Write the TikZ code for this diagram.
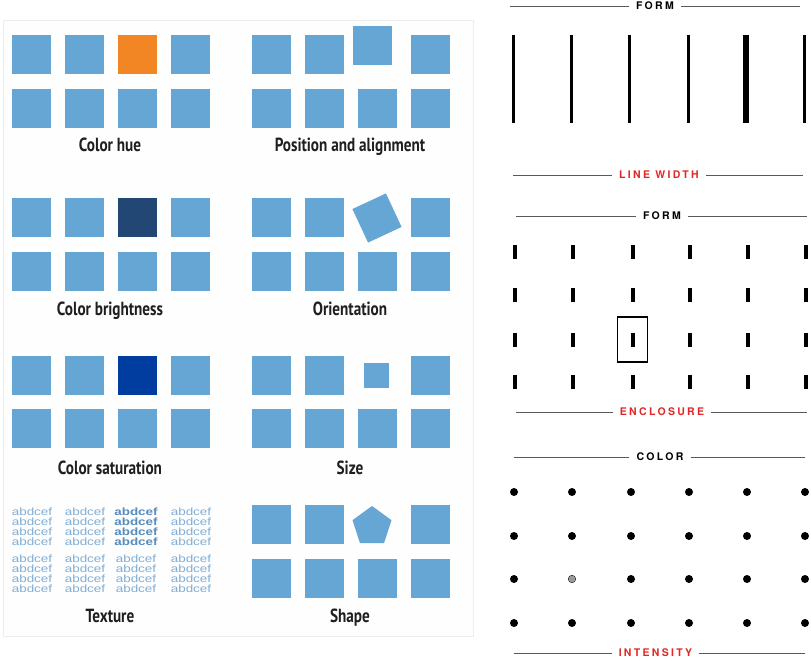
\documentclass[tikz,border=0pt]{standalone}
\usepackage{fontspec}
\setmainfont{Liberation Sans}
\newfontfamily\condfont[FakeStretch=0.8]{PT Sans}
\newfontfamily\capsfont[LetterSpace=22]{TeX Gyre Heros}
\newfontfamily\abcfont[FakeStretch=1.28]{Liberation Sans}
\usetikzlibrary{positioning, shapes.geometric}
\definecolor{sqblue}{RGB}{101,166,213}
\definecolor{hueorange}{RGB}{242,134,36}
\definecolor{darknavy}{RGB}{35,71,117}
\definecolor{satblue}{RGB}{0,61,158}
\definecolor{txtblue}{RGB}{128,174,214}
\definecolor{txtbold}{RGB}{86,140,192}
\definecolor{capred}{RGB}{224,38,38}

\begin{document}
\begin{tikzpicture}[
  x=1pt, y=-1pt,
  sq/.style={fill=sqblue, minimum size=39pt, inner sep=0pt},
  lbl/.style={font=\condfont\bfseries\fontsize{19}{21}\selectfont, text=black!88, anchor=base, inner sep=0pt},
  abc/.style={font=\abcfont\fontsize{10.5}{10}\selectfont, text=txtblue, align=center, inner sep=0pt},
  head/.style={font=\capsfont\bfseries\fontsize{10.5}{12}\selectfont, anchor=base, inner xsep=7pt, inner ysep=0pt},
  rule/.style={draw=black!65, line width=0.8pt},
  bar/.style={line width=3pt},
  tick/.style={line width=3.2pt},
  dot/.style={circle, fill=black, inner sep=0pt, minimum size=8pt}
]
\useasboundingbox (0,0) rectangle (811,661);

% left panel
\draw[draw=black!7, fill=black!0.5] (3,20) rectangle (473,636);

% plain squares, top rows leave out the odd one
\foreach \y [count=\r] in {54.5,217.5,375.5} {
  \foreach \x in {31,84,190}
    \node[sq] (l\r-\x) at (\x,\y) {};
}
\foreach \y [count=\r] in {108,271,428.5} {
  \foreach \x in {31,84,137,190}
    \node[sq] (lb\r-\x) at (\x,\y) {};
}
\foreach \y [count=\r] in {54.5,217.5,375.5,524.5} {
  \foreach \x in {271,324,430}
    \node[sq] (r\r-\x) at (\x,\y) {};
}
\foreach \y [count=\r] in {108,271,428.5,578} {
  \foreach \x in {271,324,377,430}
    \node[sq] (rb\r-\x) at (\x,\y) {};
}

% the odd ones
\node[sq, fill=hueorange] (hue) at (137,54.5) {};
\node[sq, fill=darknavy] (bright) at (137,217.5) {};
\node[sq, fill=satblue] (sat) at (137,375.5) {};
\node[sq] (shifted) at (372,46) {};
\node[sq, minimum size=37pt, rotate=25] (turned) at (377,218) {};
\node[sq, minimum size=25pt] (small) at (376.5,375.5) {};
\node[regular polygon, regular polygon sides=5, fill=sqblue, inner sep=0pt,
      minimum size=41pt] (penta) at (372,526.5) {};

% texture
\foreach \x [count=\c] in {32,85,191} {
  \node[abc] (tex-a\c) at (\x,527) {abdcef\\abdcef\\abdcef\\abdcef};
}
\node[abc, text=txtbold, font=\abcfont\bfseries\fontsize{10.5}{10}\selectfont] (tex-bold) at (136,527)
  {abdcef\\abdcef\\abdcef\\abdcef};
\foreach \x [count=\c] in {32,85,136,191} {
  \node[abc] (tex-b\c) at (\x,574) {abdcef\\abdcef\\abdcef\\abdcef};
}

% captions
\node[lbl] (cap-hue) at (110,151) {Color hue};
\node[lbl] (cap-pos) at (350,151) {Position and alignment};
\node[lbl] (cap-bright) at (110,315) {Color brightness};
\node[lbl] (cap-orient) at (350,315) {Orientation};
\node[lbl] (cap-sat) at (110,474) {Color saturation};
\node[lbl] (cap-size) at (350,474) {Size};
\node[lbl] (cap-tex) at (110,622) {Texture};
\node[lbl] (cap-shape) at (350,622) {Shape};

% right: line width
\node[head] (form1) at (655,9.8) {FORM};
\coordinate (f1l) at (510,6);
\coordinate (f1r) at (800,6);
\draw[rule] (f1l) -- (form1.west |- f1l);
\draw[rule] (form1.east |- f1r) -- (f1r);
\foreach \x in {513,571,629,688,804}
  \draw[bar] (\x,35) -- (\x,123);
\draw[line width=6pt] (746,35) -- (746,123);
\node[head, text=capred] (lwidth) at (659,178.8) {LINE WIDTH};
\coordinate (lwl) at (513,175);
\coordinate (lwr) at (803,175);
\draw[rule] (lwl) -- (lwidth.west |- lwl);
\draw[rule] (lwidth.east |- lwr) -- (lwr);

% right: enclosure
\node[head] (form2) at (662,219.8) {FORM};
\coordinate (f2l) at (516,216);
\coordinate (f2r) at (807,216);
\draw[rule] (f2l) -- (form2.west |- f2l);
\draw[rule] (form2.east |- f2r) -- (f2r);
\foreach \y in {252,295,339.5,381.5}
  \foreach \x in {515,573,633,690,748,806}
    \draw[tick] (\x,\y-7) -- (\x,\y+7);
\node[draw, line width=1.3pt, minimum width=30pt, minimum height=45pt] (encl) at (632.5,339.5) {};
\node[head, text=capred] (enclose) at (662,415.8) {ENCLOSURE};
\coordinate (enl) at (516,412);
\coordinate (enr) at (807,412);
\draw[rule] (enl) -- (enclose.west |- enl);
\draw[rule] (enclose.east |- enr) -- (enr);

% right: intensity
\node[head] (colour) at (660,460.8) {COLOR};
\coordinate (col) at (514,457);
\coordinate (cor) at (805,457);
\draw[rule] (col) -- (colour.west |- col);
\draw[rule] (colour.east |- cor) -- (cor);
\foreach \y [count=\r] in {492,536,579,623}
  \foreach \x [count=\c] in {514,572,631,689,747,805}
    \node[dot] (d\r-\c) at (\x,\y) {};
\node[dot, fill=black!40, minimum size=7pt] (faint) at (572,579) {};
\node[head, text=capred] (intens) at (655.5,656.8) {INTENSITY};
\coordinate (inl) at (514,653);
\coordinate (inr) at (805,653);
\draw[rule] (inl) -- (intens.west |- inl);
\draw[rule] (intens.east |- inr) -- (inr);
\end{tikzpicture}
\end{document}
